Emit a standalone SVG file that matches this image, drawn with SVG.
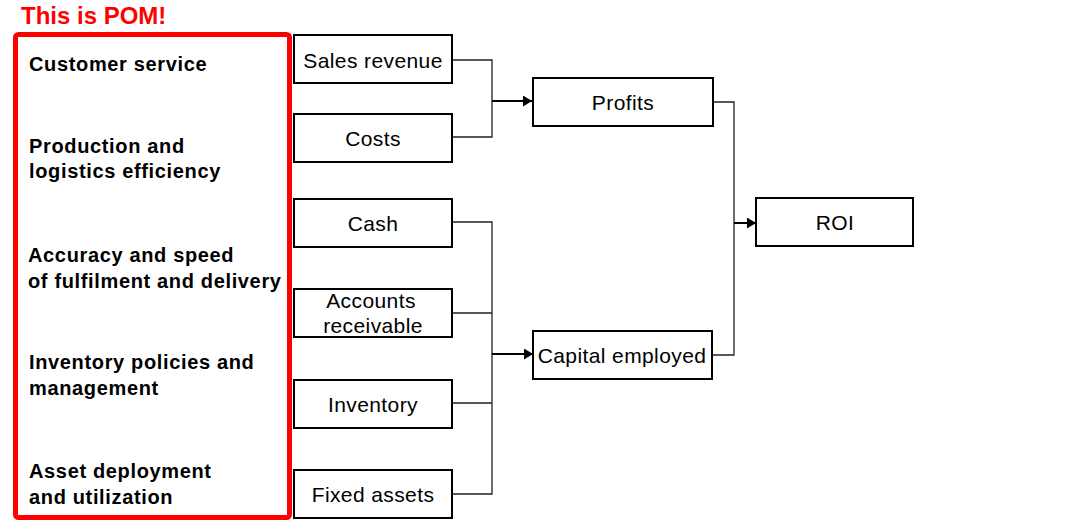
<svg xmlns="http://www.w3.org/2000/svg" width="1083" height="527" viewBox="0 0 1083 527">
<defs>
<marker id="arr" markerWidth="9" markerHeight="11" refX="9" refY="5.5" orient="auto" markerUnits="userSpaceOnUse">
<path d="M0,0 L9,5.5 L0,11 Z" fill="#000"/>
</marker>
<style>
.box{fill:#fff;stroke:#000;stroke-width:2}
.lbl{font-family:"Liberation Sans",Arial,sans-serif;font-size:21px;letter-spacing:0.4px;fill:#000;text-anchor:middle}
.pom{font-family:"Liberation Sans",Arial,sans-serif;font-size:20px;font-weight:bold;letter-spacing:0.65px;fill:#000}
.ln{fill:none;stroke:#222;stroke-width:1.3}
.ar{fill:none;stroke:#000;stroke-width:2}
</style>
</defs>
<rect width="1083" height="527" fill="#fff"/>
<g id="title">
<text x="21" y="24" font-family="Liberation Sans, Arial, sans-serif" font-size="24" font-weight="bold" fill="#f00">This is POM!</text>
</g>
<g id="pom">
<rect x="15.5" y="34.5" width="274" height="483" rx="3" fill="none" stroke="#f00" stroke-width="5"/>
<text class="pom" x="29" y="71">Customer service</text>
<text class="pom" x="29" y="153">Production and</text>
<text class="pom" x="29" y="178">logistics efficiency</text>
<text class="pom" x="28" y="262">Accuracy and speed</text>
<text class="pom" x="28" y="288">of fulfilment and delivery</text>
<text class="pom" x="29" y="369">Inventory policies and</text>
<text class="pom" x="29" y="395">management</text>
<text class="pom" x="29" y="478">Asset deployment</text>
<text class="pom" x="29" y="504">and utilization</text>
</g>
<g id="connectors">
<path class="ln" d="M452,60 H492 V137 H452"/>
<path class="ar" d="M492,101 H532" marker-end="url(#arr)"/>
<path class="ln" d="M452,222 H492 V494 H452 M452,313 H492 M452,403 H492"/>
<path class="ar" d="M492,354 H533" marker-end="url(#arr)"/>
<path class="ln" d="M713,102 H734 V355 H713"/>
<path class="ar" d="M734,223 H756" marker-end="url(#arr)"/>
</g>
<g id="sales"><rect class="box" x="294" y="35" width="158" height="48"/><text class="lbl" x="373" y="68">Sales revenue</text></g>
<g id="costs"><rect class="box" x="294" y="114" width="158" height="48"/><text class="lbl" x="373" y="146">Costs</text></g>
<g id="cash"><rect class="box" x="294" y="199" width="158" height="48"/><text class="lbl" x="373" y="231">Cash</text></g>
<g id="receivable"><rect class="box" x="294" y="289" width="158" height="48"/><text class="lbl" x="371" y="308">Accounts</text><text class="lbl" x="373" y="333">receivable</text></g>
<g id="inventory"><rect class="box" x="294" y="380" width="158" height="48"/><text class="lbl" x="373" y="412">Inventory</text></g>
<g id="fixed"><rect class="box" x="294" y="470" width="158" height="48"/><text class="lbl" x="373" y="502">Fixed assets</text></g>
<g id="profits"><rect class="box" x="533" y="78" width="180" height="48"/><text class="lbl" x="623" y="110">Profits</text></g>
<g id="capital"><rect class="box" x="533" y="331" width="179" height="48"/><text class="lbl" x="622" y="363">Capital employed</text></g>
<g id="roi"><rect class="box" x="756" y="198" width="157" height="48"/><text class="lbl" x="835" y="230">ROI</text></g>
</svg>
